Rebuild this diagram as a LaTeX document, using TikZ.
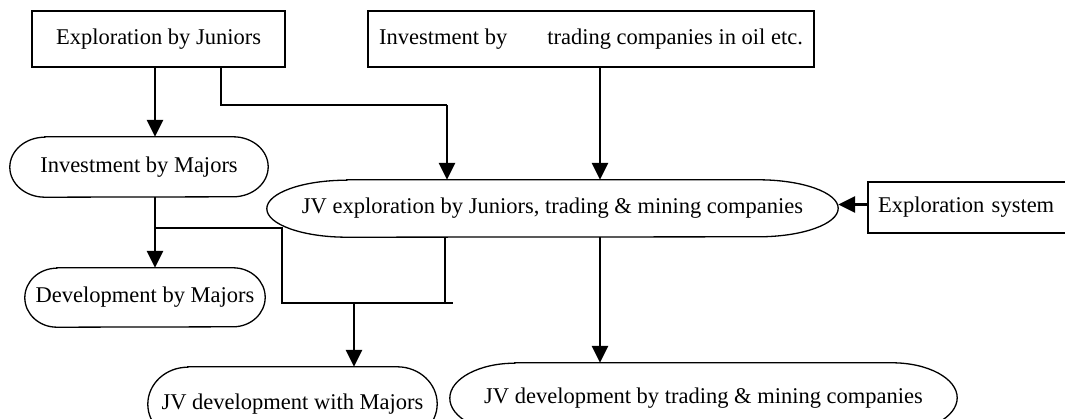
\documentclass[tikz,border=0pt]{standalone}
\usepackage{fontspec}
\setmainfont{Liberation Serif}
\usetikzlibrary{arrows.meta}

\tikzset{
  every node/.style={font=\fontsize{22.5}{26}\selectfont, inner sep=0pt},
  boxnode/.style={draw, line width=1.3pt},
  roundnode/.style={draw=none},
  flow/.style={line width=2.8pt, -{Triangle[length=17pt,width=16pt]}},
  joint/.style={line width=1.3pt},
}

% outline with flat top and bottom and half-elliptic ends:
% #1 node name, #2 horizontal radius of the ends, #3 half height
\newcommand{\stadiumoutline}[3]{%
  \draw[line width=1.3pt]
    ([xshift=#2]#1.north west) -- ([xshift=-#2]#1.north east)
    arc[start angle=90, end angle=-90, x radius=#2, y radius=#3]
    -- ([xshift=#2]#1.south west)
    arc[start angle=270, end angle=90, x radius=#2, y radius=#3] -- cycle;}

\begin{document}
\begin{tikzpicture}[x=1pt,y=1pt]
\useasboundingbox (0,0) rectangle (1065,-419);
\begin{scope}
\clip (0,0) rectangle (1065,-419);

% rectangular sources
\node[boxnode, minimum width=253pt, minimum height=56pt] (expj) at (158.5,-39) {Exploration by Juniors};
\node[boxnode, minimum width=446pt, minimum height=56pt] (invt) at (591,-39)
  {Investment by\hspace{40pt}trading companies in oil etc.};
\node[boxnode, minimum width=212pt, minimum height=51pt, text width=192pt, align=left] (exps) at (974,-207.5)
  {Exploration system};

% rounded stages
\node[roundnode, minimum width=258pt, minimum height=60pt] (invm) at (139,-167) {Investment by Majors};
\node[roundnode, minimum width=571pt, minimum height=57pt] (jvex) at (552.5,-208.5)
  {JV exploration by Juniors, trading \& mining companies};
\node[roundnode, minimum width=240pt, minimum height=59pt] (devm) at (145,-297.5) {Development by Majors};
\node[roundnode, minimum width=289pt, minimum height=74pt] (jvdm) at (292.5,-404) {JV development with Majors};
\node[roundnode, minimum width=507pt, minimum height=70pt] (jvdt) at (703.5,-398)
  {JV development by trading \& mining companies};

\stadiumoutline{invm}{35pt}{30pt}
\stadiumoutline{jvex}{80pt}{28.5pt}
\stadiumoutline{devm}{32pt}{29.5pt}
\stadiumoutline{jvdm}{40pt}{37pt}
\stadiumoutline{jvdt}{65pt}{35pt}

% junction points
\coordinate (a1) at ([xshift=-3.5pt]expj.south);
\coordinate (a2) at ([xshift=62.5pt]expj.south);
\coordinate (j1) at (447,-105);
\coordinate (a3) at ([xshift=9pt]invt.south);
\coordinate (a5) at ([xshift=16pt]invm.south);
\coordinate (j2) at (155,-228);
\coordinate (j3) at (282,-303);
\coordinate (j4) at (453,-303);
\coordinate (j5) at (354,-303);
\coordinate (a6) at ([xshift=-107.5pt]jvex.south);
\coordinate (a7) at ([xshift=47.5pt]jvex.south);

% connectors
\draw[flow] (a1) -- (a1 |- invm.north);
\draw[joint] (a2) |- (j1);
\draw[flow] (j1) -- (j1 |- jvex.north);
\draw[flow] (a3) -- (a3 |- jvex.north);
\draw[flow] ([yshift=3pt]exps.west) -- ([yshift=3pt]exps.west -| jvex.east);
\draw[flow] (a5) -- (a5 |- devm.north);
\draw[joint] (j2) -| (j3) -- (j4);
\draw[joint] (a6) -- (a6 |- j4);
\draw[flow] (j5) -- (j5 |- jvdm.north);
\draw[flow] (a7) -- (a7 |- jvdt.north);
\end{scope}
\end{tikzpicture}
\end{document}
